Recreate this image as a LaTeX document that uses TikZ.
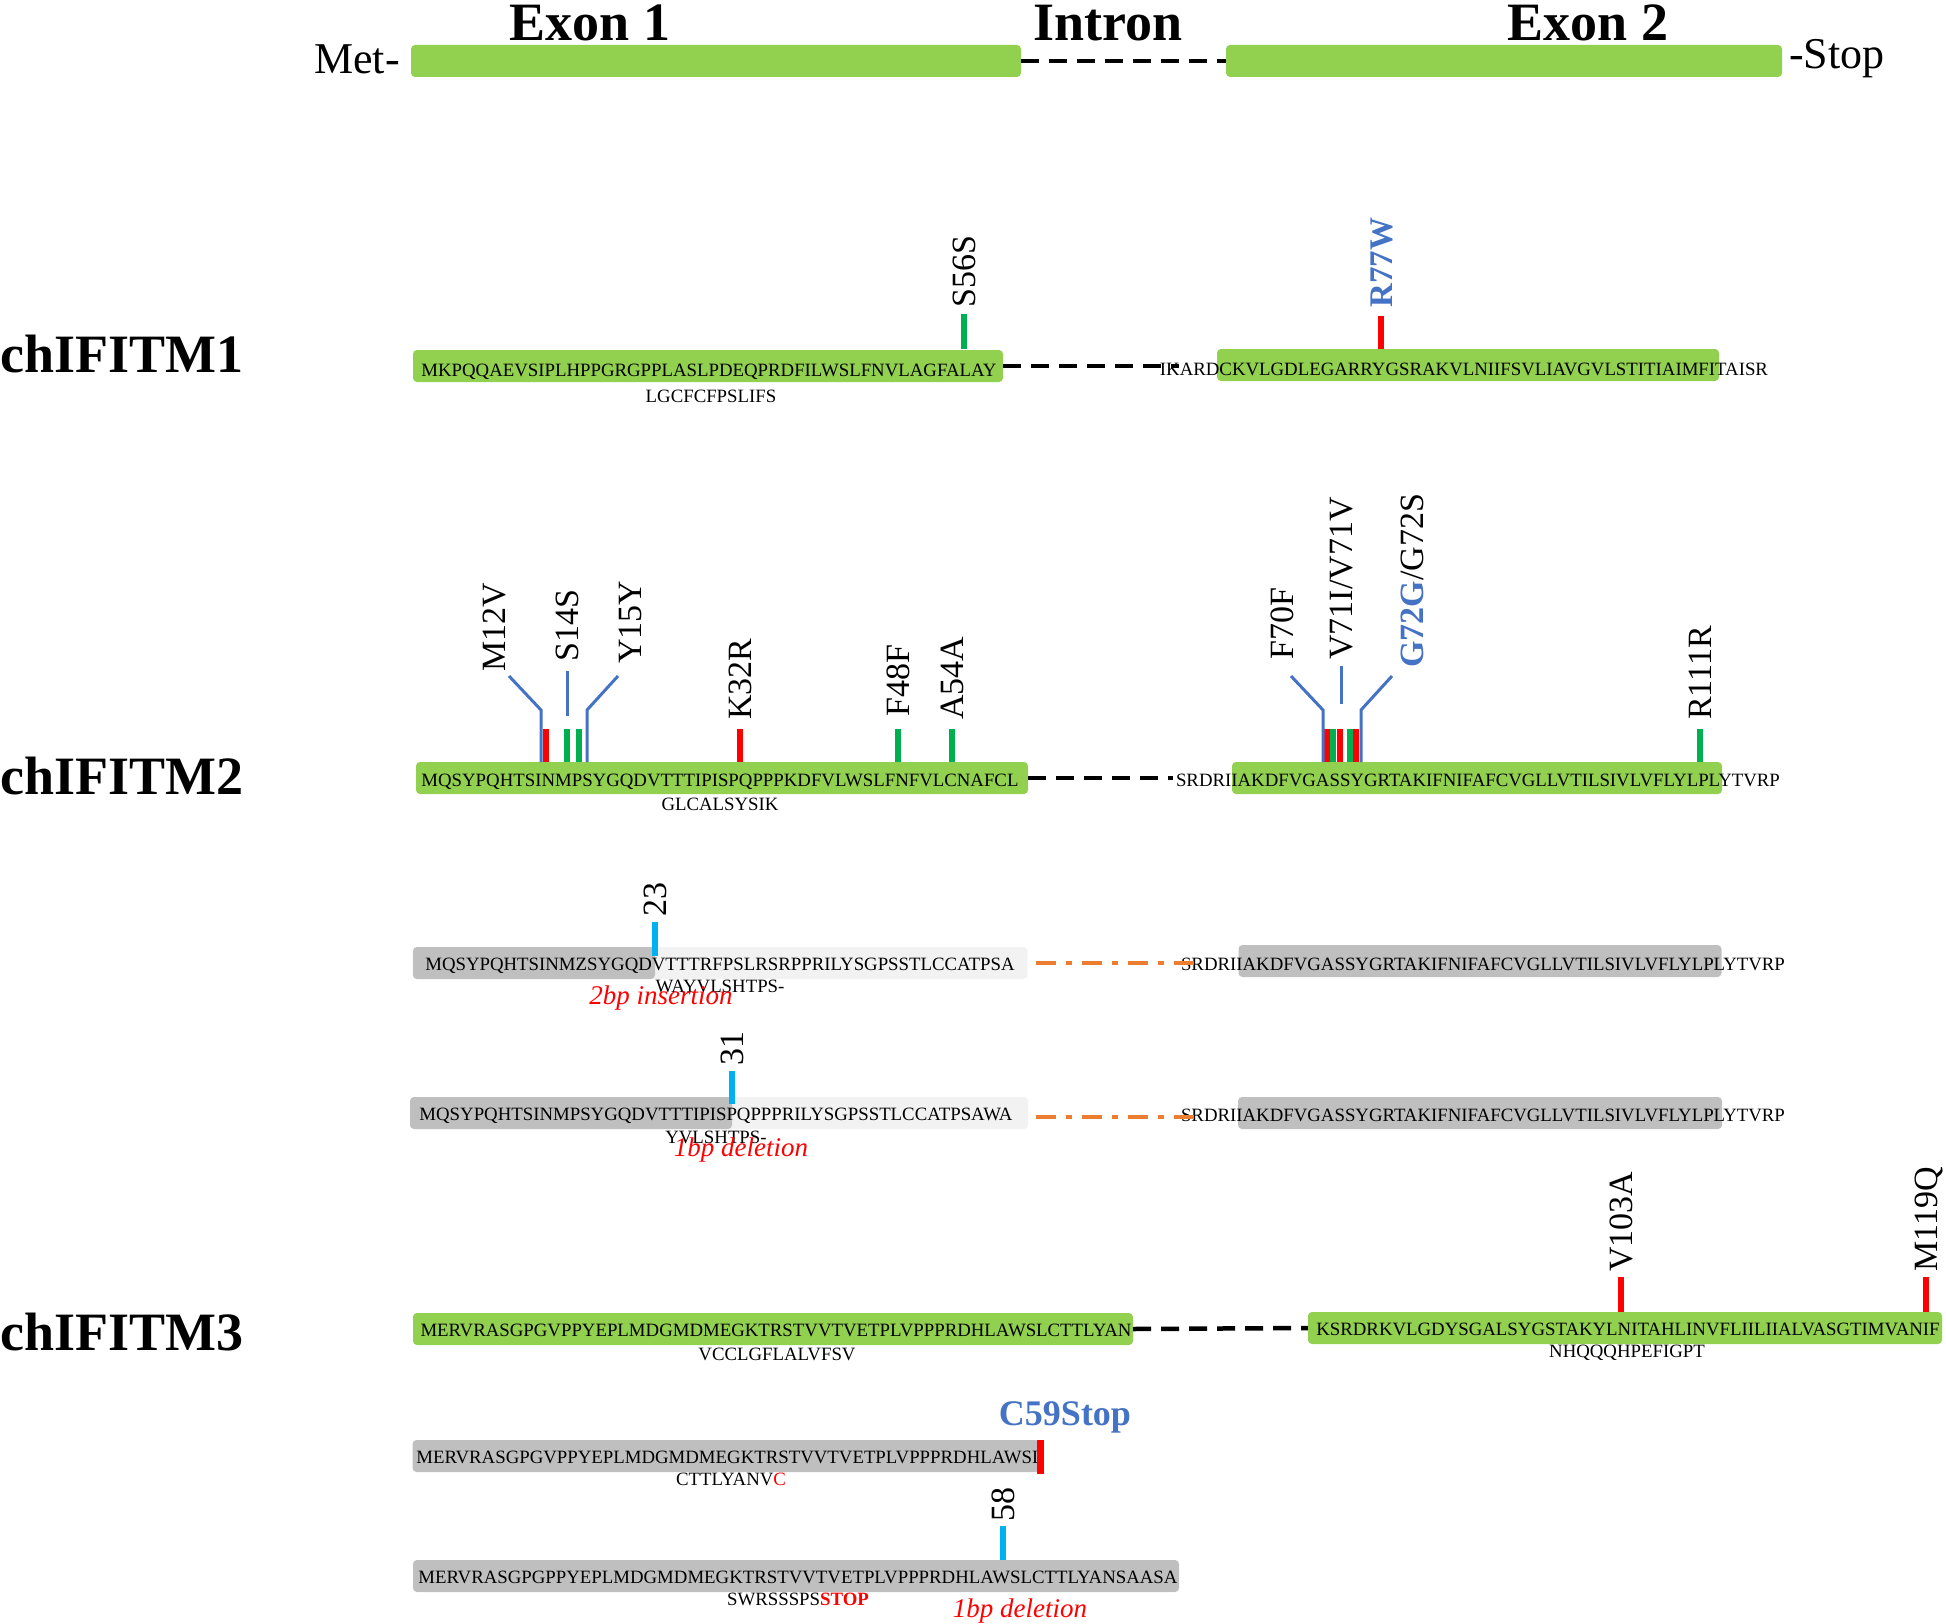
\documentclass[tikz,border=0pt]{standalone}
\usepackage{fontspec}
\setmainfont{Liberation Serif}
\definecolor{exgreen}{HTML}{92D050}
\definecolor{mutgreen}{HTML}{00B050}
\definecolor{mutblue}{HTML}{4472C4}
\definecolor{mutcyan}{HTML}{00B0F0}
\definecolor{dashorange}{HTML}{ED7D31}
\definecolor{bardark}{HTML}{BFBFBF}
\definecolor{barlight}{HTML}{F2F2F2}
\newcommand{\seqsz}{\fontsize{18.8}{20}\selectfont}
\newcommand{\labsz}{\fontsize{34}{38}\selectfont}
\newcommand{\hdsz}{\fontsize{54}{60}\selectfont}
\newcommand{\notesz}{\fontsize{27}{30}\selectfont}

\begin{document}
\begin{tikzpicture}[x=1pt,y=-1pt,
  bar/.style={rounded corners=4pt,inner sep=0pt,minimum height=32pt,draw=none},
  seq/.style={inner sep=0pt,font=\seqsz,text height=12.8pt,text depth=0pt},
  mutbar/.style={line width=6pt},
  mutlab/.style={rotate=90,anchor=west,inner sep=0pt,font=\labsz,text height=23pt,text depth=0pt},
  lead/.style={mutblue,line width=3pt},
  intron/.style={line width=4.5pt,dash pattern=on 18pt off 10pt},
  frameshift/.style={dashorange,line width=4.5pt,dash pattern=on 20pt off 10pt on 6pt off 10pt},
  gene/.style={anchor=west,inner sep=0pt,font=\hdsz\bfseries},
  note/.style={inner sep=0pt,font=\notesz\itshape,text=red}]
\useasboundingbox (0,0) rectangle (1946,1624);

% gene structure
\node[inner sep=0pt,font=\hdsz\bfseries] (ex1) at (590,23) {Exon 1};
\node[inner sep=0pt,font=\hdsz\bfseries] (intr) at (1108,23) {Intron};
\node[inner sep=0pt,font=\hdsz\bfseries] (ex2) at (1588,23) {Exon 2};
\node[bar,fill=exgreen,minimum width=610pt] (g1) at (716,61) {};
\node[bar,fill=exgreen,minimum width=556pt] (g2) at (1504,61) {};
\node[anchor=east,inner sep=0pt,font=\fontsize{44}{48}\selectfont] (met) at (400,59) {Met-};
\node[anchor=west,inner sep=0pt,font=\fontsize{44}{48}\selectfont] (stp) at (1789,59) {-Stop};
\draw[intron] (g1.east) -- (g2.west);

% chIFITM1
\node[gene] (c1) at (0,354) {chIFITM1};
\node[bar,fill=exgreen,minimum width=590pt] (a1) at (708,366) {};
\node[bar,fill=exgreen,minimum width=502pt] (a2) at (1468,365) {};
\node[seq] (s1a) at (709,370) {MKPQQAEVSIPLHPPGRGPPLASLPDEQPRDFILWSLFNVLAGFALAY};
\node[seq] (u1a) at (711,396) {LGCFCFPSLIFS};
\node[seq] (s1b) at (1464,369) {IKARDCKVLGDLEGARRYGSRAKVLNIIFSVLIAVGVLSTITIAIMFITAISR};
\coordinate (i1) at (1179,366);
\draw[intron] (a1.east) -- (i1);
\draw[mutbar,mutgreen] (964,314) -- (964,349);
\draw[mutbar,red] (1381,316) -- (1381,349);
\node[mutlab] (m56) at (964,308) {S56S};
\node[mutlab,font=\fontsize{33}{36}\selectfont\bfseries,text=mutblue] (m77) at (1381,308) {R77W};

% chIFITM2
\node[gene] (c2) at (0,776) {chIFITM2};
\node[bar,fill=exgreen,minimum width=612pt] (b1) at (722,778) {};
\node[bar,fill=exgreen,minimum width=490pt] (b2) at (1477,778) {};
\node[seq] (s2a) at (720,780) {MQSYPQHTSINMPSYGQDVTTTIPISPQPPPKDFVLWSLFNFVLCNAFCL};
\node[seq] (u2a) at (720,804) {GLCALSYSIK};
\node[seq] (s2b) at (1478,780) {SRDRIIAKDFVGASSYGRTAKIFNIFAFCVGLLVTILSIVLVFLYLPLYTVRP};
\coordinate (i2) at (1173,778);
\draw[intron] (b1.east) -- (i2);
\foreach \x/\c in {546/red,567/mutgreen,579/mutgreen,740/red,898/mutgreen,952/mutgreen,
                  1327/red,1333/mutgreen,1340/red,1350/mutgreen,1356/red,1700/mutgreen}
  \draw[mutbar,\c] (\x,729) -- (\x,762);
\draw[lead] (509,676) -- (541,710) -- (541,762);
\draw[lead] (567,671) -- (567,716);
\draw[lead] (618,676) -- (587,710) -- (587,762);
\draw[lead] (1291,676) -- (1323,710) -- (1323,762);
\draw[lead] (1341,666) -- (1341,704);
\draw[lead] (1392,676) -- (1361,710) -- (1361,762);
\foreach \x/\y/\t in {494/672/M12V,567/662/S14S,630/664/Y15Y,740/720/K32R,898/717/F48F,
                      952/720/A54A,1282/660/F70F,1341/660/V71I\slash V71V,1700/720/R111R}
  \node[mutlab] at (\x,\y) {\t};
\node[mutlab] (m72) at (1412,668) {\textcolor{mutblue}{\bfseries G72G}/G72S};

% frameshift 1
\node[bar,fill=barlight,minimum width=615pt] (f1) at (720,963) {};
\node[bar,fill=bardark,minimum width=242pt] (f1d) at (534,963) {};
\node[bar,fill=bardark,minimum width=483pt] (f1r) at (1480,961) {};
\node[seq] (s3a) at (720,964) {MQSYPQHTSINMZSYGQDVTTTRFPSLRSRPPRILYSGPSSTLCCATPSA};
\node[seq] (u3a) at (720,986) {WAYVLSHTPS-};
\node[note] (n3) at (661,998) {2bp insertion};
\node[seq] (s3b) at (1483,964) {SRDRIIAKDFVGASSYGRTAKIFNIFAFCVGLLVTILSIVLVFLYLPLYTVRP};
\coordinate (i3a) at (1036,963);
\coordinate (i3b) at (1198,963);
\draw[frameshift] (i3a) -- (i3b);
\draw[mutbar,mutcyan] (655,922) -- (655,956);
\node[mutlab] (m23) at (655,917) {23};

% frameshift 2
\node[bar,fill=barlight,minimum width=618pt] (f2) at (719,1113) {};
\node[bar,fill=bardark,minimum width=322pt] (f2d) at (571,1113) {};
\node[bar,fill=bardark,minimum width=484pt] (f2r) at (1480,1113) {};
\node[seq] (s4a) at (716,1114) {MQSYPQHTSINMPSYGQDVTTTIPISPQPPPRILYSGPSSTLCCATPSAWA};
\node[seq] (u4a) at (716,1137) {YVLSHTPS-};
\node[note] (n4) at (741,1150) {1bp deletion};
\node[seq] (s4b) at (1483,1115) {SRDRIIAKDFVGASSYGRTAKIFNIFAFCVGLLVTILSIVLVFLYLPLYTVRP};
\coordinate (i4a) at (1036,1117);
\coordinate (i4b) at (1198,1117);
\draw[frameshift] (i4a) -- (i4b);
\draw[mutbar,mutcyan] (732,1071) -- (732,1104);
\node[mutlab] (m31) at (732,1066) {31};

% chIFITM3
\node[gene] (c3) at (0,1332) {chIFITM3};
\node[bar,fill=exgreen,minimum width=720pt] (d1) at (773,1329) {};
\node[bar,fill=exgreen,minimum width=634pt] (d2) at (1625,1328) {};
\node[seq] (s5a) at (776,1330) {MERVRASGPGVPPYEPLMDGMDMEGKTRSTVVTVETPLVPPPRDHLAWSLCTTLYAN};
\node[seq] (u5a) at (777,1354) {VCCLGFLALVFSV};
\node[seq] (s5b) at (1628,1329) {KSRDRKVLGDYSGALSYGSTAKYLNITAHLINVFLIILIIALVASGTIMVANIF};
\node[seq] (u5b) at (1627,1351) {NHQQQHPEFIGPT};
\draw[intron] (d1.east) -- (d2.west);
\draw[mutbar,red] (1621,1277) -- (1621,1312);
\draw[mutbar,red] (1926,1277) -- (1926,1312);
\node[mutlab] (m103) at (1621,1272) {V103A};
\node[mutlab] (m119) at (1926,1272) {M119Q};

% nonsense
\node[bar,fill=bardark,minimum width=627pt] (e1) at (726,1456) {};
\node[seq] (s6a) at (730,1457) {MERVRASGPGVPPYEPLMDGMDMEGKTRSTVVTVETPLVPPPRDHLAWSL};
\node[seq] (u6a) at (731,1479) {CTTLYANV\textcolor{red}{C}};
\draw[line width=7pt,red] (1040,1440) -- (1040,1474);
\node[inner sep=0pt,font=\fontsize{36}{40}\selectfont\bfseries,text=mutblue] (m59) at (1065,1417) {C59Stop};

% frameshift 3
\node[bar,fill=bardark,minimum width=766pt] (h1) at (796,1576) {};
\node[seq] (s7a) at (798,1577) {MERVRASGPGPPYEPLMDGMDMEGKTRSTVVTVETPLVPPPRDHLAWSLCTTLYANSAASA};
\node[seq] (u7a) at (798,1599) {SWRSSSPS\textcolor{red}{\bfseries STOP}};
\node[note] (n7) at (1020,1611) {1bp deletion};
\draw[mutbar,mutcyan] (1003,1526) -- (1003,1560);
\node[mutlab] (m58) at (1003,1522) {58};
\end{tikzpicture}
\end{document}
